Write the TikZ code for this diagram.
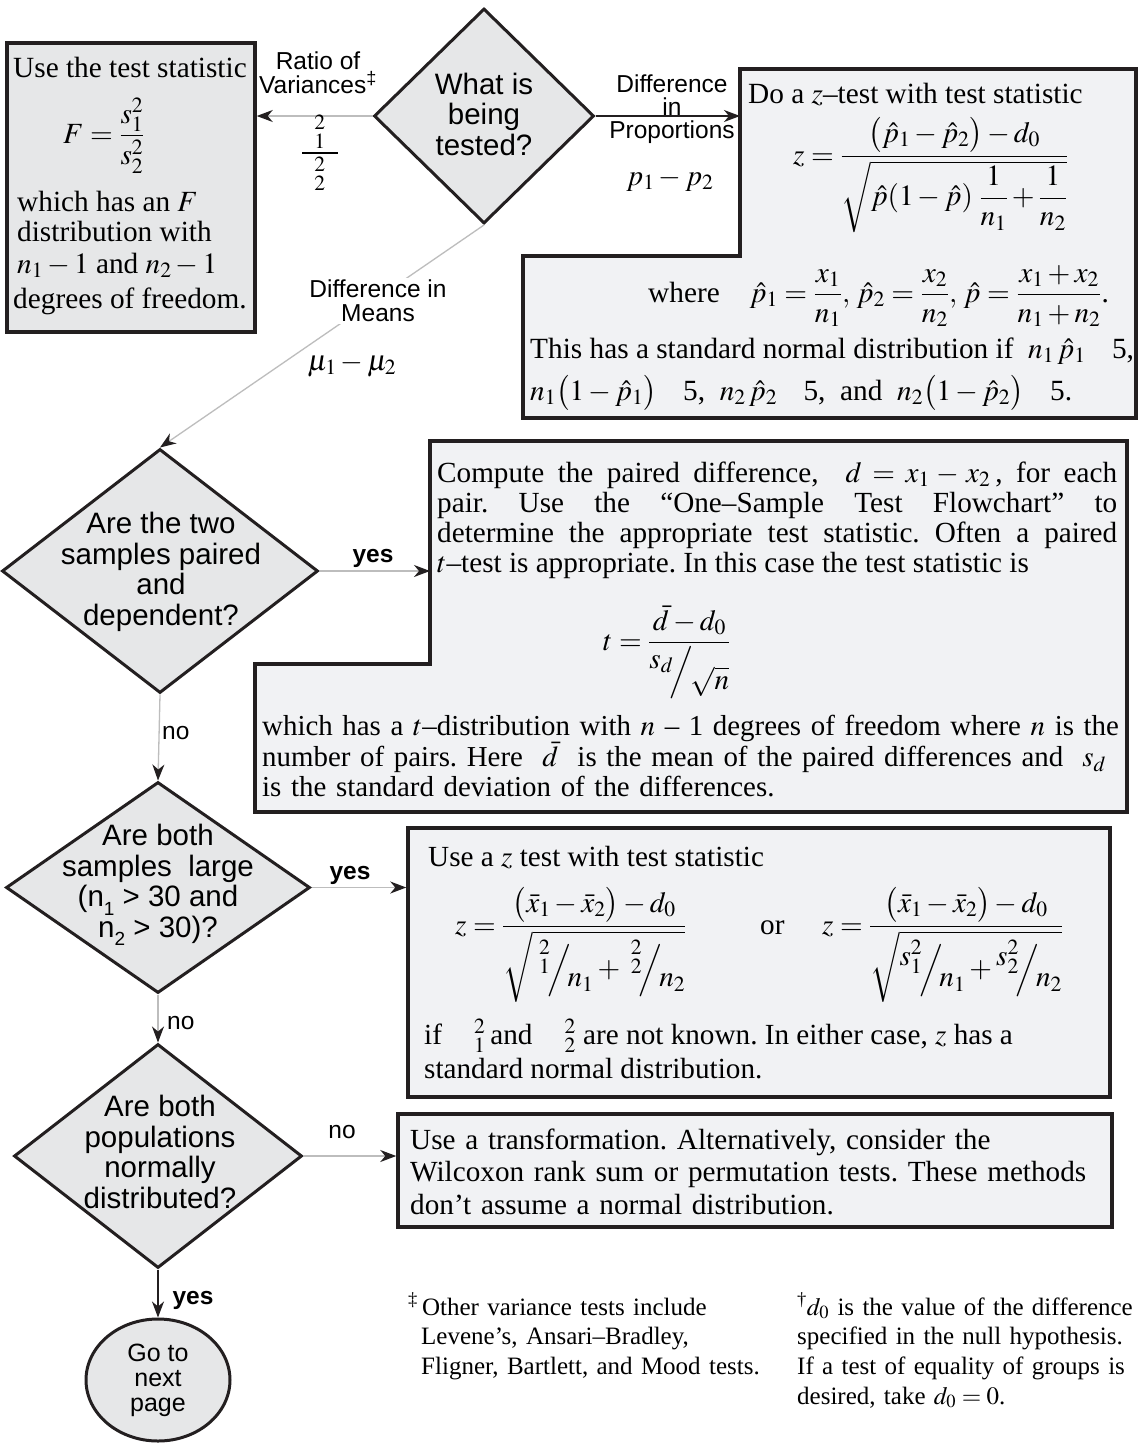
\documentclass[tikz,border=0pt]{standalone}
\usepackage{amsmath}
\usepackage{mathptmx}
\usepackage[no-math]{fontspec}
\setmainfont{Liberation Serif}
\setsansfont{Liberation Sans}
\usetikzlibrary{shapes.geometric,arrows.meta}
\definecolor{ink}{HTML}{231F20}
\definecolor{diafill}{HTML}{E6E7E8}
\definecolor{boxfill}{HTML}{F1F2F4}
\definecolor{conngray}{HTML}{BDBDBD}
\newcommand{\slfr}[2]{\raisebox{0.42em}{$#1$}\!\Big/\!\raisebox{-0.32em}{$#2$}}
\newcommand{\lowsub}[1]{\raisebox{-0.3em}{\fontsize{19}{19}\selectfont #1}}
\frenchspacing
\begin{document}
\begin{tikzpicture}[x=1pt,y=-1pt,
  rectbox/.style={draw=ink,line width=3.5pt,fill=boxfill,inner sep=0pt},
  lshape/.style={draw=ink,line width=3.5pt,fill=boxfill},
  dia/.style={shape=diamond,draw=ink,line width=3pt,fill=diafill,inner sep=0pt},
  diatext/.style={align=center,inner sep=0pt,font=\sffamily\fontsize{29.5}{30.5}\selectfont},
  bodyA/.style={inner sep=0pt,font=\fontsize{29.3}{30}\selectfont},
  bodyB/.style={inner sep=0pt,font=\fontsize{29.2}{30}\selectfont},
  fnote/.style={inner sep=0pt,font=\fontsize{25}{29.7}\selectfont},
  lbl/.style={inner sep=0pt,align=center,font=\sffamily\fontsize{24.5}{24}\selectfont},
  ylbl/.style={inner sep=0pt,font=\sffamily\bfseries\fontsize{24.5}{24}\selectfont},
  arrowtip/.style={-{Stealth[length=16pt,width=12pt,inset=5pt,color=ink]}},
  conng/.style={draw=conngray,line width=1.3pt,arrowtip},
  connk/.style={draw=ink,line width=1.6pt,arrowtip},
]
\fill[white] (0,0) rectangle (1140,1443);
\useasboundingbox (0,0) rectangle (1140,1443);

% ---------- shapes ----------
\node[rectbox,fill=diafill,minimum width=248pt,minimum height=289pt] (fbox) at (131,187.5) {};

\coordinate (b1a) at (740,69);
\coordinate (b1b) at (1136,69);
\coordinate (b1c) at (1136,418);
\coordinate (b1d) at (523,418);
\coordinate (b1e) at (523,256);
\coordinate (b1f) at (740,256);
\draw[lshape] (b1a) -- (b1b) -- (b1c) -- (b1d) -- (b1e) -- (b1f) -- cycle;

\coordinate (b2a) at (430,441);
\coordinate (b2b) at (1127,441);
\coordinate (b2c) at (1127,812);
\coordinate (b2d) at (255,812);
\coordinate (b2e) at (255,664);
\coordinate (b2f) at (430,664);
\draw[lshape] (b2a) -- (b2b) -- (b2c) -- (b2d) -- (b2e) -- (b2f) -- cycle;

\node[rectbox,minimum width=702pt,minimum height=269pt] (box3) at (759,962.5) {};
\node[rectbox,minimum width=714pt,minimum height=113pt] (box4) at (755,1170.5) {};

\node[dia,minimum width=220pt,minimum height=215pt] (d1) at (484,116) {};
\node[dia,minimum width=316pt,minimum height=244pt] (d2) at (160,571) {};
\node[dia,minimum width=304pt,minimum height=211pt] (d3) at (158,887.5) {};
\node[dia,minimum width=288pt,minimum height=224pt] (d4) at (158,1156) {};

\node[ellipse,draw=ink,line width=3pt,fill=diafill,minimum width=144pt,minimum height=122pt,inner sep=0pt,align=center,font=\sffamily\fontsize{25}{25}\selectfont] (ell) at (158,1380) {Go to\\next\\page};

% ---------- connectors ----------
\draw[conng] (d1.west) -- (d1.west -| fbox.east);
\draw[connk] (d1.east) -- (d1.east -| b1a);
\draw[conng] (d1.south) -- (d2.north);
\draw[conng] (d2.east) -- (d2.east -| b2a);
\draw[conng] (d2.south) -- (d3.north);
\draw[conng] (d3.east) -- (d3.east -| box3.west);
\draw[conng] (d3.south) -- (d4.north);
\draw[conng] (d4.east) -- (d4.east -| box4.west);
\draw[connk] (d4.south) -- (ell.north);

% ---------- diamond texts ----------
\node[diatext] (d1t) at (484,114) {What is\\being\\tested?};
\node[diatext] (d2t) at (161,572) {Are the two\\samples paired\\and\\dependent?};
\node[diatext] (d3t) at (158,885) {Are both\\samples\ \ large\\(n\lowsub{1} > 30 and\\n\lowsub{2} > 30)?};
\node[diatext] (d4t) at (160,1152) {Are both\\populations\\normally\\distributed?};

% ---------- connector labels ----------
\node[lbl] (lratio) at (318,73) {Ratio of\\Variances\textsuperscript{‡}};
\node[bodyB] (lvar) at (320,153) {$\dfrac{\hspace{12pt}{}^{2}_{1}\hspace{12pt}}{{}^{2}_{2}}$};
\node[lbl,font=\sffamily\fontsize{24.5}{23}\selectfont] (lprop) at (672,109) {Difference\\in\\Proportions};
\node[bodyB] (lp) at (670,180) {$p_1-p_2$};
\node[lbl,fill=white,inner sep=2pt] (lmeans) at (378,301) {Difference in\\Means};
\node[bodyB] (lmu) at (352,365) {$\mu_1-\mu_2$};
\node[ylbl] (y1) at (373,558) {yes};
\node[lbl,anchor=west] (n1) at (162,733) {no};
\node[ylbl] (y2) at (350,875) {yes};
\node[lbl,anchor=west] (n2) at (167,1023) {no};
\node[lbl] (n3) at (342,1132) {no};
\node[ylbl] (y3) at (193,1300) {yes};

% ---------- F box text ----------
\node[bodyA,anchor=base west] (ft1) at (13,77) {Use the test statistic};
\node[bodyA,anchor=base west] (ft2) at (63,143) {$F=\dfrac{s_1^{2}}{s_2^{2}}$};
\node[bodyA,anchor=base west] (ft3) at (17,211) {which has an $F$};
\node[bodyA,anchor=base west] (ft4) at (17,241) {distribution with};
\node[bodyA,anchor=base west] (ft5) at (17,273) {$n_1-1$ and $n_2-1$};
\node[bodyA,anchor=base west] (ft6) at (13,308) {degrees of freedom.};

% ---------- box 1 text ----------
\node[bodyA,anchor=base west] (b1t1) at (748,103) {Do a $z$–test with test statistic};
\node[bodyA,anchor=base west] (b1f) at (793,164) {$z=\dfrac{\bigl(\hat p_1-\hat p_2\bigr)-d_0}{\sqrt{\hat p(1-\hat p)\;\dfrac{1}{n_1}+\dfrac{1}{n_2}}}$};
\node[bodyA,anchor=base west] (b1t2) at (648,302) {where\hspace{30pt}$\hat p_1=\dfrac{x_1}{n_1},\,\hat p_2=\dfrac{x_2}{n_2},\,\hat p=\dfrac{x_1+x_2}{n_1+n_2}$.};
\node[bodyA,anchor=base west] (b1t3) at (530,358) {This has a standard normal distribution if\ \ $n_1\,\hat p_1$\hspace{0.9em}5,};
\node[bodyA,anchor=base west] (b1t4) at (530,400) {$n_1\bigl(1-\hat p_1\bigr)$\hspace{0.9em}5,\ \ $n_2\,\hat p_2$\hspace{0.9em}5,\ \ and\ \ $n_2\bigl(1-\hat p_2\bigr)$\hspace{0.9em}5.};

% ---------- box 2 text ----------
\node[bodyB,anchor=base west,text width=680pt,align=justify] (b2t1) at (437,482) {Compute the paired difference,\ \ $d=x_1-x_2$\,, for each\linebreak pair. Use the “One–Sample Test Flowchart” to\linebreak determine the appropriate test statistic. Often a paired\linebreak $t$–test is appropriate. In this case the test statistic is};
\node[bodyB,anchor=base west] (b2f) at (603,650) {$t=\dfrac{\bar d-d_0}{\slfr{s_d}{\sqrt{n}}}$};
\node[bodyB,anchor=base west,text width=940pt,align=left,font=\fontsize{28.9}{30}\selectfont] (b2t2) at (262,735) {which has a $t$–distribution with $n$ – 1 degrees of freedom where $n$ is the\\number of pairs. Here\ \ $\bar d$\ \ is the mean of the paired differences and\ \ $s_d$\\is the standard deviation of the differences.};

% ---------- box 3 text ----------
\node[bodyB,anchor=base west] (b3t1) at (428,866) {Use a $z$ test with test statistic};
\node[bodyB,anchor=base west] (b3f1) at (455,934) {$z=\dfrac{\bigl(\bar x_1-\bar x_2\bigr)-d_0}{\sqrt{\;\slfr{{}^{2}_{1}}{n_1}+\;\slfr{{}^{2}_{2}}{n_2}}}$};
\node[bodyB,anchor=base west] (b3or) at (760,934) {or};
\node[bodyB,anchor=base west] (b3f2) at (822,934) {$z=\dfrac{\bigl(\bar x_1-\bar x_2\bigr)-d_0}{\sqrt{\slfr{s_1^2}{n_1}+\slfr{s_2^2}{n_2}}}$};
\node[bodyB,anchor=base west] (b3t2) at (424,1044) {if\hspace{1.1em}${}^{2}_{1}$\,and\hspace{1.1em}${}^{2}_{2}$ are not known. In either case, $z$ has a};
\node[bodyB,anchor=base west] (b3t3) at (424,1078) {standard normal distribution.};

% ---------- box 4 text ----------
\node[bodyB,anchor=base west,text width=760pt,align=left,font=\fontsize{29.2}{32.5}\selectfont] (b4t) at (410,1149) {Use a transformation. Alternatively, consider the\\Wilcoxon rank sum or permutation tests. These methods\\don’t assume a normal distribution.};

% ---------- footnotes ----------
\node[fnote,anchor=base west,text width=370pt,align=left] (fn1) at (408,1315) {\textsuperscript{‡}\,Other variance tests include\\\hspace*{13pt}Levene’s, Ansari–Bradley,\\\hspace*{13pt}Fligner, Bartlett, and Mood tests.};
\node[fnote,anchor=base west,text width=345pt,align=left] (fn2) at (797,1315) {\textsuperscript{†}$d_0$ is the value of the difference\\specified in the null hypothesis.\\If a test of equality of groups is\\desired, take $d_0=0$.};
\end{tikzpicture}
\end{document}
